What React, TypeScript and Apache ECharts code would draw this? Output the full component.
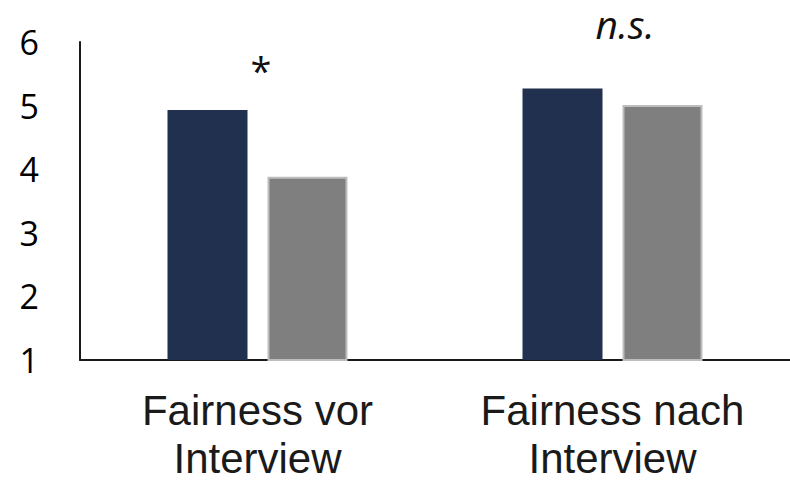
import React, { useEffect, useRef } from "react";
import * as echarts from "echarts";

// Fairness ratings before and after the interview, two groups
const categories = ["Fairness vor\nInterview", "Fairness nach\nInterview"];
const groupA = [4.93, 5.27];
const groupB = [3.88, 5.01];
const yTicks = { min: 1, max: 6, interval: 1 };
const significance = ["*", "n.s."];

export default function App() {
  const ref = useRef<HTMLDivElement>(null);

  useEffect(() => {
    if (!ref.current) return;
    const chart = echarts.init(ref.current, null, { renderer: "svg" });
    chart.setOption({
      animation: false,
      grid: { left: 80, right: 0, top: 42, bottom: 116, containLabel: false },
      xAxis: {
        type: "category",
        data: categories,
        axisLine: { show: true, lineStyle: { color: "#1a1a1a", width: 2 } },
        axisTick: { show: false },
        axisLabel: {
          color: "#1a1a1a",
          fontFamily: "Liberation Sans, Arial, sans-serif",
          fontSize: 42,
          lineHeight: 48,
          margin: 26,
          interval: 0,
        },
      },
      yAxis: {
        type: "value",
        min: yTicks.min,
        max: yTicks.max,
        interval: yTicks.interval,
        axisLine: { show: true, lineStyle: { color: "#1a1a1a", width: 2 } },
        axisTick: { show: false },
        splitLine: { show: false },
        axisLabel: {
          color: "#000",
          fontFamily: "Open Sans, sans-serif",
          fontSize: 34,
          margin: 41,
        },
      },
      series: [
        {
          type: "bar",
          data: groupA,
          barWidth: 80,
          barGap: "25%",
          itemStyle: { color: "#21304f" },
        },
        {
          type: "bar",
          data: groupB,
          barWidth: 80,
          itemStyle: { color: "#7f7f7f", borderColor: "#bdbdbd", borderWidth: 2 },
        },
      ],
      graphic: [
        {
          type: "text",
          x: 261,
          y: 70,
          style: {
            text: significance[0],
            fontFamily: "Open Sans, sans-serif",
            fontSize: 38,
            lineHeight: 38,
            fill: "#111",
            align: "center",
            verticalAlign: "middle",
          },
        },
        {
          type: "text",
          x: 625,
          y: 23,
          style: {
            text: significance[1],
            fontFamily: "Open Sans, sans-serif",
            fontStyle: "italic",
            fontSize: 39,
            lineHeight: 40,
            fill: "#111",
            align: "center",
            verticalAlign: "middle",
          },
        },
      ],
    });
    return () => chart.dispose();
  }, []);

  return (
    <div
      ref={ref}
      style={{ position: "absolute", left: 0, top: 0, width: 790, height: 482 }}
    />
  );
}
